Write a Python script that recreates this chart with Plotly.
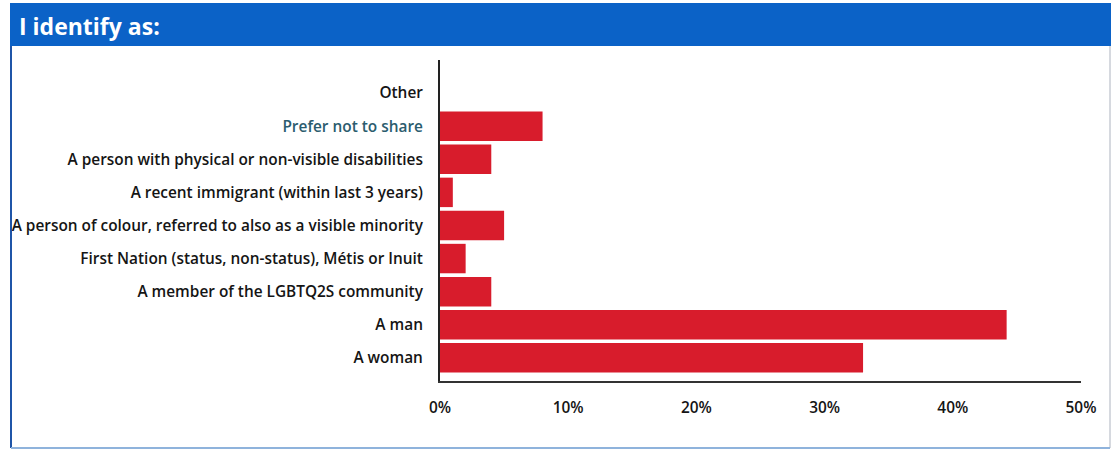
import plotly.graph_objects as go

categories = [
    "A woman",
    "A man",
    "A member of the LGBTQ2S community",
    "First Nation (status, non-status), Métis or Inuit",
    "A person of colour, referred to also as a visible minority",
    "A recent immigrant (within last 3 years)",
    "A person with physical or non-visible disabilities",
    "Prefer not to share",
    "Other",
]
values = [33, 44.2, 4, 2, 5, 1, 4, 8, 0]
tick_vals = [0, 10, 20, 30, 40, 50]
tick_text = ["0%", "10%", "20%", "30%", "40%", "50%"]
title_text = "I identify as:"

W, H = 1114, 451
L, R, T, B = 440, 1081, 60, 381

def px(x):
    return (x - L) / (R - L)

def py(y):
    return (B - y) / (B - T)

tick_labels = [
    f"<span style='color:#2b5c6e'>{c}</span>" if c == "Prefer not to share" else c
    for c in categories
]

FONT = "'Open Sans', Lato, sans-serif"

fig = go.Figure(
    go.Bar(
        y=list(range(len(categories))),
        x=values,
        orientation="h",
        width=0.89,
        marker=dict(color="#d81c2c", line=dict(width=0)),
        hoverinfo="x+y",
    )
)

fig.update_layout(
    width=W,
    height=H,
    margin=dict(l=L, r=W - R, t=T, b=H - B),
    paper_bgcolor="white",
    plot_bgcolor="white",
    font=dict(family=FONT, size=15, color="#151515"),
    showlegend=False,
)

fig.update_yaxes(
    tickmode="array",
    tickvals=list(range(len(categories))),
    ticktext=tick_labels,
    tickfont=dict(family=FONT, size=15.4, weight=600, color="#151515"),
    range=[-0.7, 9.0],
    showline=True,
    linecolor="#222222",
    linewidth=2,
    showgrid=False,
    zeroline=False,
    ticks="outside",
    ticklen=0,
    ticklabelstandoff=12,
)

fig.update_xaxes(
    range=[0, 50],
    tickmode="array",
    tickvals=tick_vals,
    ticktext=tick_text,
    tickfont=dict(family=FONT, size=15.4, weight=600, color="#151515"),
    showline=True,
    linecolor="#333333",
    linewidth=2,
    showgrid=False,
    zeroline=False,
    ticks="outside",
    ticklen=0,
    ticklabelstandoff=12,
)

shapes = [
    # title band
    dict(type="rect", xref="paper", yref="paper",
         x0=px(10), x1=px(1111), y0=py(46), y1=py(3),
         fillcolor="#0b62c7", line=dict(width=0), layer="below"),
    # left border
    dict(type="line", xref="paper", yref="paper",
         x0=px(11), x1=px(11), y0=py(46), y1=py(448),
         line=dict(color="#1f55a8", width=2)),
    # right border
    dict(type="line", xref="paper", yref="paper",
         x0=px(1110), x1=px(1110), y0=py(46), y1=py(448),
         line=dict(color="#c8ccd4", width=1.5)),
    # bottom border
    dict(type="line", xref="paper", yref="paper",
         x0=px(11), x1=px(1110), y0=py(448), y1=py(448),
         line=dict(color="#8fb3dc", width=2)),
]
fig.update_layout(shapes=shapes)

fig.add_annotation(
    xref="paper", yref="paper",
    x=px(17), y=py(26),
    xanchor="left", yanchor="middle",
    text=f"<b>{title_text}</b>",
    showarrow=False,
    font=dict(family=FONT, size=23, color="white"),
)

fig.write_html(
    "out.html",
    config={"displayModeBar": False},
    post_script="document.body.style.margin='0px';",
)
